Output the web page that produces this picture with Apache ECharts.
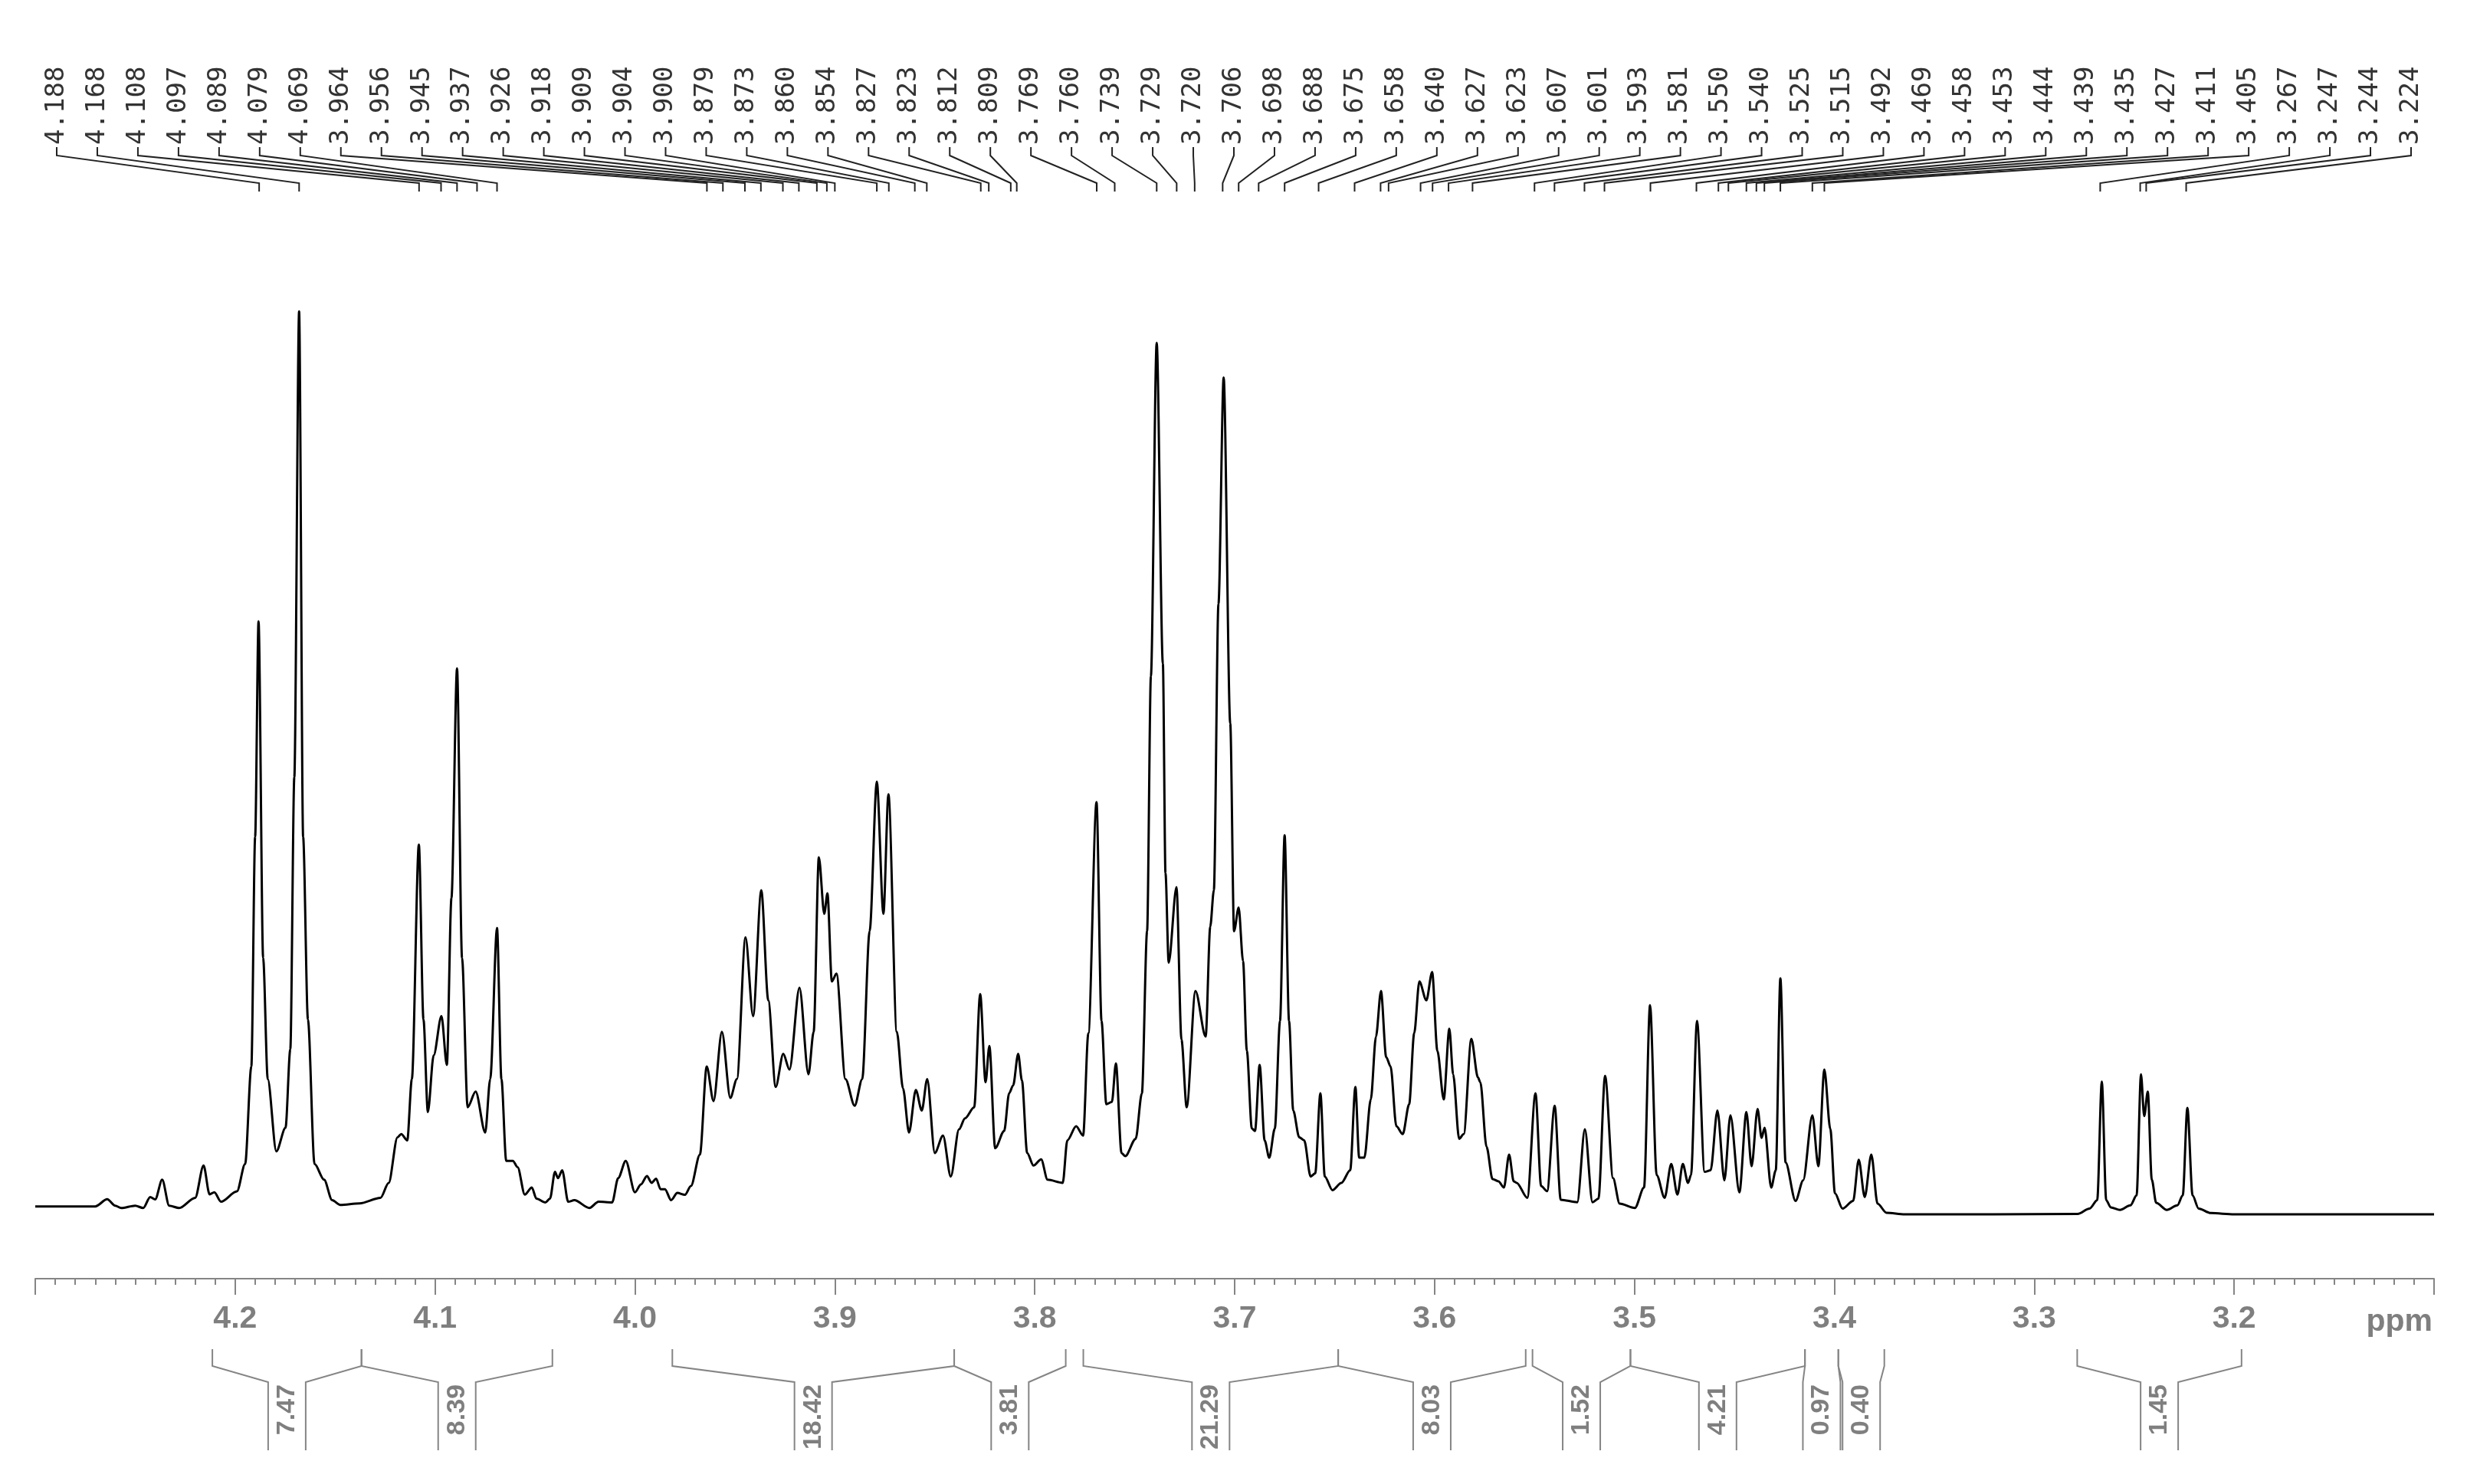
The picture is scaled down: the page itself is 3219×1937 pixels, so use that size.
<!DOCTYPE html>
<html><head><meta charset="utf-8">
<script src="https://cdn.jsdelivr.net/npm/echarts/dist/echarts.min.js"></script>
<style>html,body{margin:0;padding:0;background:#fff}#c{width:3219px;height:1937px}</style>
</head><body><div id="c"></div>
<script>
// ---- spectrum (chemical shift in ppm, intensity in arbitrary units)
const ppmX = [4.300,4.280,4.270,4.264,4.260,4.257,4.250,4.246,4.2425,4.240,4.2365,4.233,4.228,4.220,4.2158,4.2128,4.2104,4.2071,4.1991,4.195,4.1919,4.190,4.1883,4.186,4.1837,4.1794,4.1748,4.1724,4.1704,4.168,4.166,4.1636,4.1603,4.1555,4.1515,4.1474,4.1378,4.1273,4.1232,4.1188,4.1169,4.1139,4.1116,4.1081,4.1058,4.1036,4.1007,4.0968,4.0941,4.0918,4.089,4.0865,4.0837,4.0797,4.0749,4.0724,4.069,4.0668,4.0644,4.0611,4.0587,4.0551,4.0516,4.0493,4.0448,4.0425,4.040,4.0385,4.0364,4.0334,4.0303,4.0228,4.0182,4.0114,4.0084,4.0046,4.000,3.997,3.994,3.9917,3.9894,3.9872,3.985,3.9819,3.9788,3.975,3.972,3.9675,3.9641,3.9607,3.9565,3.9523,3.949,3.9447,3.9409,3.9368,3.9333,3.9296,3.9258,3.9227,3.9177,3.9132,3.9106,3.908,3.9053,3.9037,3.9015,3.8992,3.8947,3.8901,3.8863,3.8826,3.879,3.8757,3.8732,3.869,3.8659,3.8629,3.8595,3.8565,3.8538,3.850,3.8459,3.842,3.8379,3.8349,3.8303,3.8273,3.8246,3.8227,3.8198,3.8153,3.8128,3.8108,3.8083,3.8064,3.8038,3.8006,3.7968,3.7936,3.786,3.7837,3.7793,3.7758,3.7732,3.7691,3.7666,3.7642,3.7614,3.7594,3.7566,3.7547,3.7495,3.7464,3.7438,3.7419,3.739,3.7359,3.7346,3.733,3.7291,3.7266,3.724,3.7196,3.7145,3.7122,3.7104,3.7081,3.7055,3.7022,3.7003,3.698,3.6958,3.6939,3.6914,3.6898,3.6875,3.685,3.6827,3.6799,3.6773,3.675,3.6728,3.6707,3.6677,3.6652,3.662,3.6597,3.6571,3.6549,3.6511,3.6466,3.6422,3.6396,3.6377,3.6351,3.6319,3.6293,3.6268,3.6242,3.622,3.6191,3.6159,3.6127,3.6102,3.6076,3.6041,3.6012,3.5986,3.5954,3.5926,3.5907,3.5877,3.5854,3.5816,3.5783,3.5771,3.574,3.571,3.568,3.5653,3.5627,3.5604,3.5589,3.5536,3.5495,3.5467,3.5437,3.5399,3.5369,3.5286,3.5248,3.521,3.518,3.5147,3.5107,3.5074,3.4998,3.4952,3.4922,3.4889,3.4849,3.4816,3.4785,3.4758,3.4732,3.4717,3.4687,3.4649,3.4619,3.4585,3.455,3.452,3.4475,3.444,3.4414,3.4384,3.4364,3.4349,3.4316,3.4293,3.427,3.4244,3.4194,3.4156,3.411,3.408,3.405,3.402,3.3997,3.3959,3.3906,3.3878,3.3848,3.3815,3.3784,3.3739,3.3648,3.340,3.3207,3.2783,3.2723,3.2685,3.2662,3.264,3.2617,3.2571,3.2519,3.2488,3.2466,3.245,3.2432,3.2412,3.239,3.2337,3.2284,3.2257,3.2234,3.2208,3.2178,3.2117,3.200,3.150,3.100];
const intensity = [5,5,5,9.6,5.5,4,5.5,4,11,9.5,22,5.5,4,10.5,31,12.7,14,8,14.6,32,94,240,377,163,86,40,55,105,278,574,240,124,32,22,9,6,7,10.5,20,49,51,47,86,235,124,65,101,126,95,201,347,163,68,78,52,86,182,86,34,34,30,12.5,17,10,7.6,10,27,23,28,8,9,4,8,7.6,23,34,14,19,24.4,20,22.6,16,16,9,13.6,12.4,18,38,94,72,116,74,86,176,126,206,136,81,102,92,144,89,116,227,191,204,148,153,86,69,86,180,275,191,267,116,80,52,79,66,86,39,50,24,54,61,68,140,84,107,42,53,77,82,102,85,39,31,35,22,20,47,56,50,115,262,123,70,71.5,96,39,37,48,77,180,342,554,350,217,160,208,111,68,142,113,183,206,388,532,312,180,195,161,104,54.5,53,95,47,36,54.5,123,241,123,66,49,47,24,26,77,24,15.4,20,28,81,36,36,73,113,142,100,94,56,51,70,115,148,136,154,104,73,118,89,48,51,111.5,87,84,43,22.4,21,17,38,21,20,10.5,77,18,14.7,69,9.3,7.7,54,7.7,10,88,23,6.8,4,17,133,25,10.5,32,12.6,32,20,25,123,27,28,66,21.6,63,14,65,30.6,67,48.6,55,17,28,150,33,8.5,21.6,63,30.6,92,54,13.4,3.6,8.5,34.7,11,38,6.8,1,0,0,0,0.3,3.7,9,84.4,9,4.4,2.8,5.7,12,89,62.5,78,22,7.3,2.8,5.7,12,67.7,12,3.7,0.8,0,0,0];

// ---- peak picking labels
const peakPpm = [4.188,4.168,4.108,4.097,4.089,4.079,4.069,3.964,3.956,3.945,3.937,3.926,3.918,3.909,3.904,3.900,3.879,3.873,3.860,3.854,3.827,3.823,3.812,3.809,3.769,3.760,3.739,3.729,3.720,3.706,3.698,3.688,3.675,3.658,3.640,3.627,3.623,3.607,3.601,3.593,3.581,3.550,3.540,3.525,3.515,3.492,3.469,3.458,3.453,3.444,3.439,3.435,3.427,3.411,3.405,3.267,3.247,3.244,3.224];

// ---- integrals
const integralFrom = [4.2114,4.1368,3.9813,3.8403,3.7757,3.6482,3.5510,3.5020,3.4147,3.3980,3.2785];
const integralTo   = [4.1368,4.0413,3.8403,3.7845,3.6482,3.5544,3.5020,3.4147,3.3980,3.3750,3.1963];
const integralValue = ['7.47','8.39','18.42','3.81','21.29','8.03','1.52','4.21','0.97','0.40','1.45'];

// ---- axis
const axisMin = 3.1, axisMax = 4.3, axisStep = 0.1;

const spectrum = ppmX.map((p, i) => [p, intensity[i]]);
const peakData = peakPpm.map(p => [p, 0]);
const integralData = integralFrom.map((f, i) => [f, integralTo[i], i]);

const chart = echarts.init(document.getElementById('c'), null, {renderer: 'canvas'});
const GRAY = '#858585';
const LAB_X0 = 74, LAB_X1 = 3146;

chart.setOption({
  animation: false,
  backgroundColor: '#ffffff',
  grid: [
    {left: 46, right: 43, top: 353, bottom: 352},
    {left: 46, right: 43, top: 1668, height: 1}
  ],
  xAxis: [
    {type: 'value', gridIndex: 0, min: axisMin, max: axisMax, inverse: true, show: false},
    {type: 'value', gridIndex: 1, min: axisMin, max: axisMax, interval: axisStep, inverse: true,
     position: 'bottom',
     axisLine: {show: true, lineStyle: {color: GRAY, width: 2}},
     axisTick: {show: true, length: 21, lineStyle: {color: GRAY, width: 2}},
     minorTick: {show: true, splitNumber: 10, length: 8, lineStyle: {color: GRAY, width: 2}},
     splitLine: {show: false},
     axisLabel: {show: true, margin: 32, color: '#7f7f7f', fontFamily: 'Liberation Sans', fontWeight: 'bold', fontSize: 41,
       showMinLabel: false, showMaxLabel: false, formatter: v => v.toFixed(1)}}
  ],
  yAxis: [
    {type: 'value', gridIndex: 0, min: 0, max: 600, show: false},
    {type: 'value', gridIndex: 1, min: 0, max: 1, show: false}
  ],
  graphic: [
    {type: 'text', right: 45, top: 1705, style: {text: 'ppm', fontFamily: 'Liberation Sans', fontWeight: 'bold', fontSize: 41, fill: '#7f7f7f'}}
  ],
  series: [
    {type: 'line', xAxisIndex: 0, yAxisIndex: 0, data: spectrum, symbol: 'none', clip: false,
     smooth: 0.3, smoothMonotone: 'x',
     lineStyle: {color: '#000', width: 3}, z: 3},
    {type: 'custom', xAxisIndex: 0, yAxisIndex: 0, data: peakData, clip: false, encode: {x: 0, y: 1},
     renderItem: function (params, api) {
       const i = params.dataIndex;
       const px = api.coord([api.value(0), 0])[0];
       const lx = LAB_X0 + i * (LAB_X1 - LAB_X0) / (peakPpm.length - 1);
       return {type: 'group', children: [
         {type: 'polyline', shape: {points: [[lx, 192], [lx, 203], [px, 239], [px, 250]]},
          style: {stroke: '#222', lineWidth: 2, fill: 'none'}},
         {type: 'text', x: lx, y: 189, rotation: Math.PI / 2,
          style: {text: peakPpm[i].toFixed(3), fontFamily: 'DejaVu Sans Mono', fontSize: 34, fill: '#333',
                  align: 'left', verticalAlign: 'middle'}}
       ]};
     }},
    {type: 'custom', xAxisIndex: 0, yAxisIndex: 0, data: integralData, clip: false, encode: {x: [0, 1]},
     renderItem: function (params, api) {
       const x1 = api.coord([api.value(0), 0])[0];
       const x2 = api.coord([api.value(1), 0])[0];
       const m = (x1 + x2) / 2, hw = 24.5;
       const st = {stroke: GRAY, lineWidth: 2, fill: 'none'};
       return {type: 'group', children: [
         {type: 'polyline', shape: {points: [[x1, 1761], [x1, 1783], [m - hw, 1804], [m - hw, 1893]]}, style: st},
         {type: 'polyline', shape: {points: [[x2, 1761], [x2, 1783], [m + hw, 1804], [m + hw, 1893]]}, style: st},
         {type: 'text', x: m, y: 1807, rotation: Math.PI / 2,
          style: {text: integralValue[params.dataIndex], fontFamily: 'Liberation Sans', fontWeight: 'bold', fontSize: 34,
                  fill: '#7f7f7f', align: 'right', verticalAlign: 'middle'}}
       ]};
     }}
  ]
});
</script></body></html>
